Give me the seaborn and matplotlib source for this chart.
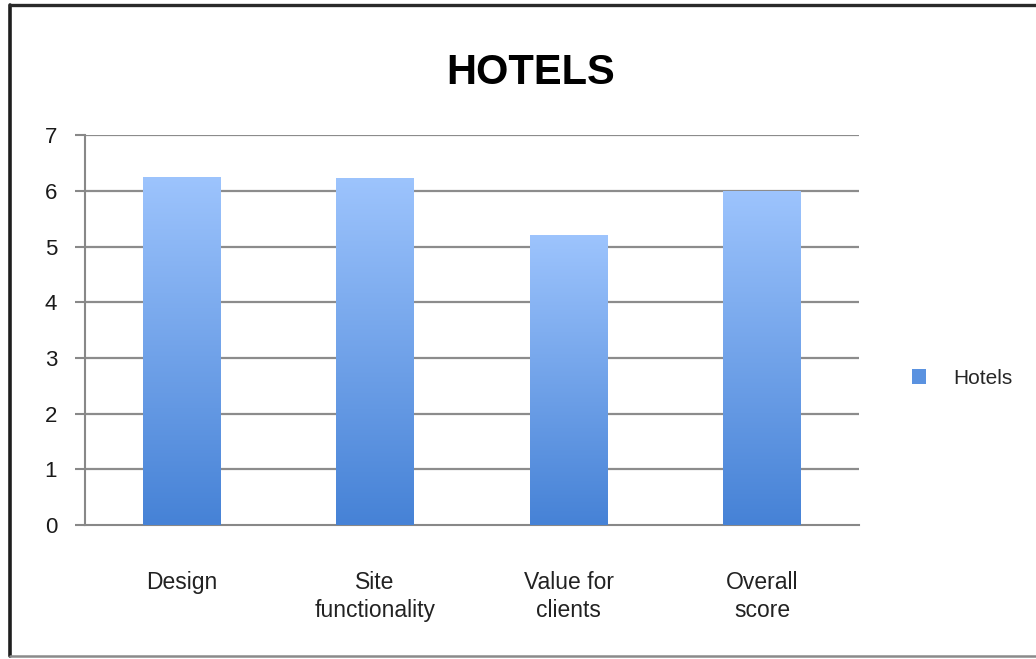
import numpy as np
import pandas as pd
import matplotlib
matplotlib.use("Agg")
import matplotlib.pyplot as plt
from matplotlib.colors import LinearSegmentedColormap
from matplotlib.patches import Patch
from matplotlib.lines import Line2D
import seaborn as sns

categories = ["Design", "Site\nfunctionality", "Value for\nclients", "Overall\nscore"]
scores = [6.25, 6.23, 5.2, 6.0]
series_name = "Hotels"
y_ticks = [0, 1, 2, 3, 4, 5, 6, 7]

df = pd.DataFrame({"category": categories, "score": scores})

sns.set_theme(style="white")
plt.rcParams["font.family"] = ["Liberation Sans", "DejaVu Sans"]

fig = plt.figure(figsize=(10.36, 6.59), dpi=100)
ax = fig.add_axes([0.082, 0.203, 0.747, 0.592])

sns.barplot(data=df, x="category", y="score", color="#6A9FE8", width=0.4,
            ax=ax, zorder=3)

# vertical gradient fill, clipped to each bar
grad = LinearSegmentedColormap.from_list("bar", ["#4682D6", "#9DC4FD"])
ramp = np.linspace(0, 1, 256).reshape(-1, 1)
for bar in ax.patches:
    x0, w, h = bar.get_x(), bar.get_width(), bar.get_height()
    bar.set_facecolor("none")
    bar.set_edgecolor("none")
    im = ax.imshow(ramp, cmap=grad, origin="lower", aspect="auto",
                   extent=(x0, x0 + w, 0, h), zorder=3)
    im.set_clip_path(bar)

ax.set_xlim(-0.5, len(categories) - 0.5)
ax.set_ylim(0, 7)
ax.set_yticks(y_ticks)
ax.set_yticklabels([str(t) for t in y_ticks], fontsize=16, color="#1a1a1a")
ax.set_xticks(range(len(categories)))
ax.set_xticklabels(categories, fontsize=16.5, color="#222222", linespacing=1.3)
ax.set_xticks(np.arange(-0.5, len(categories)), minor=True)
ax.tick_params(axis="x", which="major", length=0, pad=33)
ax.tick_params(axis="x", which="minor", length=7, width=1.5, color="#888888",
               direction="out")
ax.tick_params(axis="y", length=7, width=1.5, color="#888888", direction="out",
               pad=13, left=True)
ax.set_xlabel("")
ax.set_ylabel("")

for t in y_ticks[1:]:
    ax.axhline(t, color="#8c8c8c", lw=1.6, zorder=1)

for side in ["top", "right"]:
    ax.spines[side].set_visible(False)
for side in ["left", "bottom"]:
    ax.spines[side].set_color("#888888")
    ax.spines[side].set_linewidth(1.5)

fig.text(0.512, 0.889, "HOTELS", ha="center", va="center", fontsize=30,
         fontweight="bold", color="#000000")

handle = Patch(facecolor="#5A92E0", edgecolor="none")
fig.legend([handle], [series_name], loc="center left",
           bbox_to_anchor=(0.862, 0.426), frameon=False, fontsize=15,
           handlelength=0.7, handleheight=0.7, handletextpad=1.3)

# chart frame: dark left and top edges, grey bottom edge
fig.add_artist(Line2D([0.0095, 0.0095], [0.005, 0.993], transform=fig.transFigure,
                      color="#1e1e1e", lw=2.6))
fig.add_artist(Line2D([0.0095, 1.0], [0.993, 0.993], transform=fig.transFigure,
                      color="#2a2a2a", lw=2.4))
fig.add_artist(Line2D([0.0095, 1.0], [0.005, 0.005], transform=fig.transFigure,
                      color="#8a8a8a", lw=1.8))

fig.savefig("out.png", dpi=100)
